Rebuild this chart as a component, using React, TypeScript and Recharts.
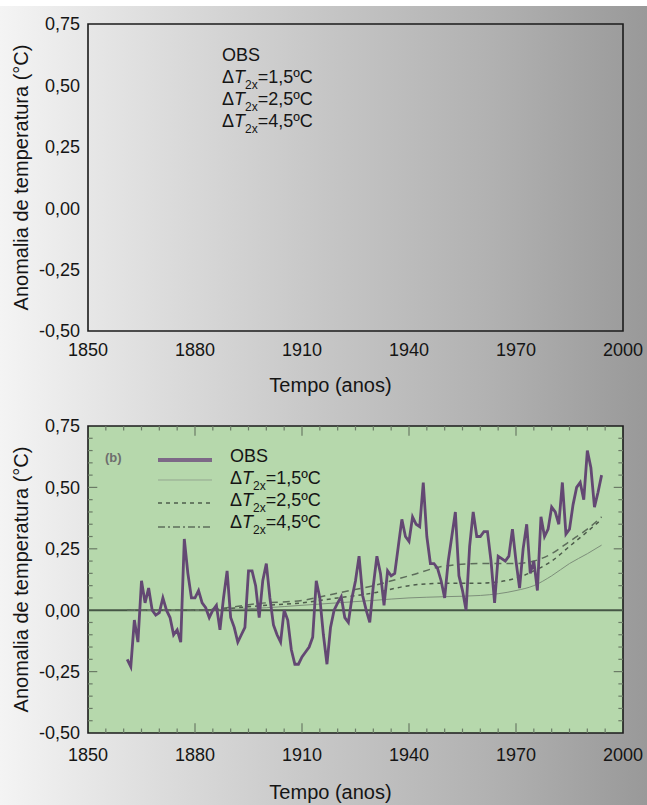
import React from 'react';
import { LineChart, Line, XAxis, YAxis, ReferenceArea, ReferenceLine, CartesianGrid } from 'recharts';

const FONT = '"Liberation Sans", Arial, sans-serif';

const X_TICKS = [1850, 1880, 1910, 1940, 1970, 2000];
const Y_TICKS = [-0.5, -0.25, 0, 0.25, 0.5, 0.75];
const MINOR_X_TICKS = [1855, 1860, 1865, 1870, 1875, 1885, 1890, 1895, 1900, 1905, 1915, 1920, 1925, 1930, 1935, 1945, 1950, 1955, 1960, 1965, 1975, 1980, 1985, 1990, 1995];
const MAJOR_X_TICKS = [1880, 1910, 1940, 1970];
const MINOR_Y_TICKS = [-0.45, -0.4, -0.35, -0.3, -0.2, -0.15, -0.1, -0.05, 0.05, 0.1, 0.15, 0.2, 0.3, 0.35, 0.4, 0.45, 0.55, 0.6, 0.65, 0.7];
const MAJOR_Y_TICKS = [-0.25, 0.25, 0.5];

// observed anomaly, one value per year from 1861
const OBS_START = 1861;
const OBS_VALUES = [
  -0.2, -0.23, -0.04, -0.13, 0.12, 0.03, 0.09, 0.0, -0.02, -0.01,
  0.05, 0.0, -0.03, -0.1, -0.08, -0.13, 0.29, 0.15, 0.05, 0.05,
  0.08, 0.03, 0.01, -0.03, 0.0, 0.02, -0.08, 0.05, 0.16, -0.03,
  -0.07, -0.13, -0.1, -0.07, 0.16, 0.16, 0.1, -0.03, 0.12, 0.19,
  0.05, -0.06, -0.1, -0.13, 0.0, -0.04, -0.16, -0.22, -0.22, -0.19,
  -0.17, -0.15, -0.11, 0.12, 0.05, -0.1, -0.22, -0.07, 0.0, 0.03,
  0.055, -0.03, -0.05, 0.05, 0.12, 0.22, 0.06, 0.0, -0.05, 0.1,
  0.22, 0.15, 0.02, 0.16, 0.14, 0.15, 0.26, 0.37, 0.3, 0.28,
  0.38, 0.35, 0.34, 0.52, 0.3, 0.19, 0.19, 0.17, 0.12, 0.05,
  0.2, 0.3, 0.4, 0.14, 0.08, 0.0, 0.26, 0.4, 0.3, 0.3,
  0.32, 0.32, 0.2, 0.03, 0.22, 0.21, 0.2, 0.22, 0.33, 0.2,
  0.09, 0.25, 0.35, 0.15, 0.2, 0.08, 0.38, 0.3, 0.33, 0.42,
  0.4, 0.35, 0.52, 0.31, 0.33, 0.43, 0.5, 0.52, 0.45, 0.65,
  0.58, 0.42, 0.48, 0.55,
];

const MODEL_YEARS = [1861, 1880, 1900, 1910, 1920, 1930, 1940, 1950, 1960, 1970, 1975, 1980, 1985, 1990, 1994];
const MODEL_15 = [0, 0, 0.01, 0.02, 0.03, 0.04, 0.05, 0.055, 0.06, 0.08, 0.1, 0.14, 0.19, 0.23, 0.265];
const MODEL_25 = [0, 0, 0.02, 0.03, 0.05, 0.07, 0.1, 0.11, 0.11, 0.13, 0.16, 0.2, 0.26, 0.32, 0.37];
const MODEL_45 = [0, 0, 0.03, 0.04, 0.07, 0.1, 0.14, 0.18, 0.19, 0.19, 0.2, 0.23, 0.28, 0.33, 0.38];

const LEGEND_VALUES = ['1,5', '2,5', '4,5'];

const obsData = OBS_VALUES.map((v, i) => ({ year: OBS_START + i, v }));
const modelData = (vals: number[]) => MODEL_YEARS.map((year, i) => ({ year, v: vals[i] }));

const fmtY = (v: number) => v.toFixed(2).replace('.', ',');

// inner tick marks of the scanned frame, lengths in data units
const X0 = 1850, X1 = 2000, Y0 = -0.5, Y1 = 0.75;
const xTickSegs = (ticks: number[], len: number) =>
  ticks.flatMap((t) => [
    [{ x: t, y: Y0 }, { x: t, y: Y0 + len }],
    [{ x: t, y: Y1 }, { x: t, y: Y1 - len }],
  ]);
const yTickSegs = (ticks: number[], len: number) =>
  ticks.flatMap((t) => [
    [{ x: X0, y: t }, { x: X0 + len, y: t }],
    [{ x: X1, y: t }, { x: X1 - len, y: t }],
  ]);
const FRAME_TICKS = [
  ...xTickSegs(MINOR_X_TICKS, 0.018),
  ...xTickSegs(MAJOR_X_TICKS, 0.04),
  ...yTickSegs(MINOR_Y_TICKS, 1.3),
  ...yTickSegs(MAJOR_Y_TICKS, 2.6),
];

const YTitle = ({ viewBox }: any) => {
  const cy = viewBox.y + viewBox.height / 2;
  return (
    <text x={21} y={cy} transform={`rotate(-90, 21, ${cy})`} textAnchor="middle" dominantBaseline="central" fontSize={20} fill="#151515" fontFamily={FONT}>
      Anomalia de temperatura (°C)
    </text>
  );
};

const XTitle = ({ viewBox, dy }: any) => (
  <text x={viewBox.x + viewBox.width / 2 - 25} y={viewBox.y + dy} textAnchor="middle" fontSize={20} fill="#151515" fontFamily={FONT}>
    Tempo (anos)
  </text>
);

const DeltaText = ({ x, y, value }: { x: number; y: number; value: string }) => (
  <text x={x} y={y} fontSize={18} fill="#151515" fontFamily={FONT}>
    <tspan>Δ</tspan>
    <tspan fontStyle="italic">T</tspan>
    <tspan fontSize={12} dy={6}>2x</tspan>
    <tspan dy={-6}>{`=${value}ºC`}</tspan>
  </text>
);

const LegendText = ({ x, y0 }: { x: number; y0: number }) => (
  <>
    <text x={x} y={y0} fontSize={18} fill="#151515" fontFamily={FONT}>OBS</text>
    {LEGEND_VALUES.map((v, i) => (
      <DeltaText key={v} x={x} y={y0 + 22 * (i + 1)} value={v} />
    ))}
  </>
);

const Panel = ({ top, height, marginTop, tickMargin, titleDy, filled }: any) => (
  <div style={{ position: 'absolute', left: 0, top }}>
    <LineChart width={647} height={height} margin={{ top: marginTop, right: 24, bottom: 0, left: 0 }}>
      {filled && <CartesianGrid horizontal={false} vertical={false} fill="#b6d8ac" fillOpacity={1} />}
      <XAxis
        dataKey="year"
        type="number"
        domain={[X0, X1]}
        allowDataOverflow
        ticks={X_TICKS}
        height={height - marginTop - 307}
        tickLine={false}
        axisLine={false}
        tickMargin={tickMargin}
        interval={0}
        tick={{ fontSize: 18, fill: '#151515', fontFamily: FONT }}
        label={<XTitle dy={titleDy} />}
      />
      <YAxis
        type="number"
        domain={[Y0, Y1]}
        allowDataOverflow
        ticks={Y_TICKS}
        width={88}
        interval={0}
        tickLine={false}
        axisLine={false}
        tickFormatter={fmtY}
        tick={{ fontSize: 18, fill: '#151515', fontFamily: FONT }}
        label={<YTitle />}
      />
      {filled &&
        FRAME_TICKS.map((seg, i) => (
          <ReferenceLine key={i} segment={seg} stroke="#6b7b66" strokeWidth={1.2} ifOverflow="visible" />
        ))}
      {filled && <ReferenceLine y={0} stroke="#465646" strokeWidth={2} />}
      {filled && <Line data={modelData(MODEL_15)} dataKey="v" type="monotone" stroke="#7d8f7a" strokeWidth={1} dot={false} isAnimationActive={false} />}
      {filled && <Line data={modelData(MODEL_25)} dataKey="v" type="monotone" stroke="#4d5c4b" strokeWidth={1.5} strokeDasharray="4 4" dot={false} isAnimationActive={false} />}
      {filled && <Line data={modelData(MODEL_45)} dataKey="v" type="monotone" stroke="#5d6d5b" strokeWidth={1.5} strokeDasharray="7 5" dot={false} isAnimationActive={false} />}
      {filled && <Line data={obsData} dataKey="v" type="linear" stroke="#634873" strokeWidth={2.8} dot={false} isAnimationActive={false} />}
      <ReferenceArea x1={X0} x2={X1} y1={Y0} y2={Y1} fill="none" stroke="#1b1b1b" strokeWidth={1.6} ifOverflow="visible" />
    </LineChart>
  </div>
);

export default function App() {
  return (
    <div
      style={{
        position: 'absolute',
        left: 0,
        top: 0,
        width: 647,
        height: 805,
        overflow: 'hidden',
        fontFamily: FONT,
        background: 'linear-gradient(to right, #f4f4f4 0%, #dcdcdc 25%, #c6c6c6 50%, #b2b2b2 75%, #999999 100%)',
      }}
    >
      <div style={{ position: 'absolute', left: 0, top: 0, width: 647, height: 6, background: '#ffffff' }} />
      <Panel top={0} height={405} marginTop={24} tickMargin={6} titleDy={61} filled={false} />
      <svg width={240} height={110} style={{ position: 'absolute', left: 212, top: 40 }}>
        <LegendText x={10} y0={21} />
      </svg>
      <Panel top={405} height={400} marginTop={21} tickMargin={9} titleDy={66} filled />
      <svg width={260} height={110} style={{ position: 'absolute', left: 100, top: 440 }}>
        <text x={5} y={22} fontSize={13} fontWeight="bold" fill="#6e6e6e" fontFamily={FONT}>(b)</text>
        <line x1={58} x2={112} y1={20} y2={20} stroke="#7d6887" strokeWidth={4} />
        <line x1={58} x2={112} y1={40} y2={40} stroke="#93a58f" strokeWidth={1} />
        <line x1={58} x2={112} y1={63} y2={63} stroke="#4d5c4b" strokeWidth={1.5} strokeDasharray="4 4" />
        <line x1={58} x2={112} y1={87} y2={87} stroke="#5d6d5b" strokeWidth={1.5} strokeDasharray="7 3 2 3" />
        <LegendText x={130} y0={22} />
      </svg>
    </div>
  );
}
